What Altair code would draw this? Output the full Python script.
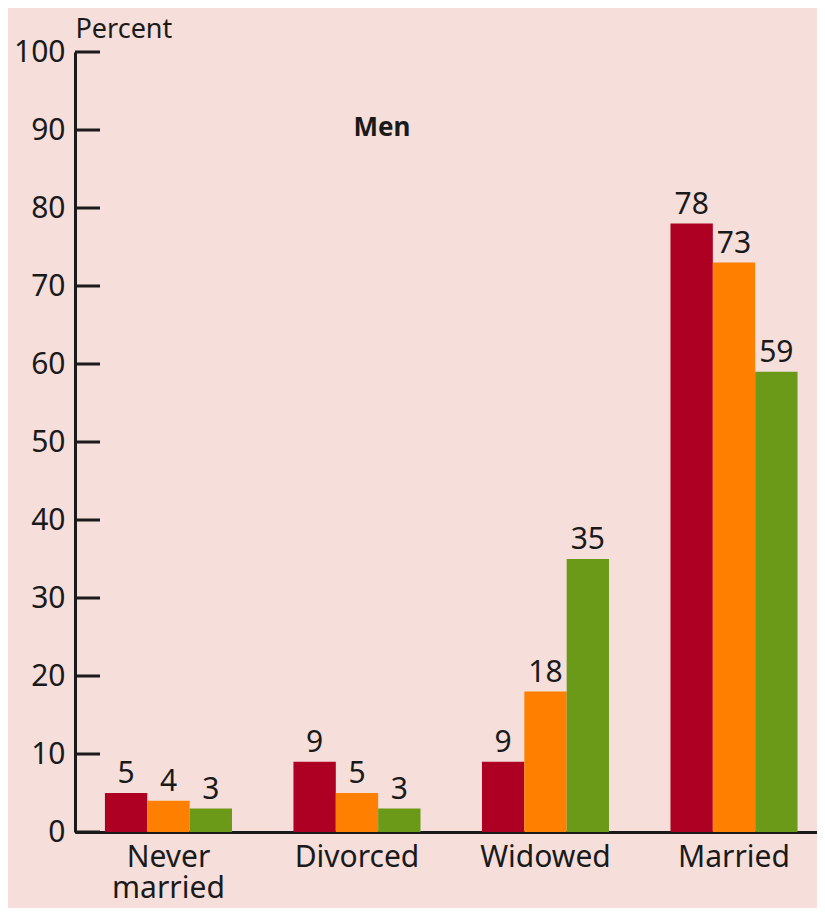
import altair as alt
import pandas as pd

categories = ["Never married", "Divorced", "Widowed", "Married"]
series = ["Group A", "Group B", "Group C"]
values_a = [5, 9, 9, 78]
values_b = [4, 5, 18, 73]
values_c = [3, 3, 35, 59]
colors = ["#AE0022", "#FF8000", "#6A9A18"]
y_ticks = [0, 10, 20, 30, 40, 50, 60, 70, 80, 90, 100]

rows = []
for i, c in enumerate(categories):
    for s, vals in zip(series, [values_a, values_b, values_c]):
        rows.append({"category": c, "series": s, "value": vals[i]})
df = pd.DataFrame(rows)

FONT = "Noto Sans"
INK = "#1a1a1a"
BG = "#F6DEDA"
FS = 30

x_enc = alt.X(
    "category:N", sort=categories,
    scale=alt.Scale(paddingInner=0.326, paddingOuter=0.131, align=0.606),
    axis=alt.Axis(title=None, labelAngle=0, ticks=False, labelPadding=10,
                  labelExpr="split(datum.label, ' ')", labelLineHeight=31,
                  labelFontSize=FS, labelFont=FONT, labelColor=INK,
                  domainColor=INK, domainWidth=3, labelBaseline="top"),
)
xoff = alt.XOffset("series:N", sort=series,
                   scale=alt.Scale(paddingInner=0, paddingOuter=0))
y_scale = alt.Scale(domain=[0, 100], nice=False)

bars = alt.Chart(df).mark_bar().encode(
    x=x_enc,
    xOffset=xoff,
    y=alt.Y("value:Q", scale=y_scale,
            axis=alt.Axis(title="Percent", titleAngle=0, titleX=0, titleY=-15,
                          titleAlign="left", titleBaseline="alphabetic",
                          titleFontSize=27, titleFont=FONT, titleFontWeight="normal",
                          titleColor=INK, values=y_ticks, ticks=False, grid=False,
                          labelPadding=10, labelFontSize=FS, labelFont=FONT,
                          labelColor=INK, domainColor=INK, domainWidth=3)),
    color=alt.Color("series:N", sort=series,
                    scale=alt.Scale(domain=series, range=colors), legend=None),
)

labels = alt.Chart(df).mark_text(
    dy=-10, baseline="alphabetic", fontSize=FS, font=FONT, color=INK
).encode(
    x=alt.X("category:N", sort=categories),
    xOffset=xoff,
    y=alt.Y("value:Q", scale=y_scale),
    text="value:Q",
)

tick_df = pd.DataFrame({"tick": y_ticks})
ticks = alt.Chart(tick_df).mark_rule(color=INK, strokeWidth=3).encode(
    y=alt.Y("tick:Q", scale=y_scale),
    x=alt.value(0), x2=alt.value(25),
)

title_df = pd.DataFrame({"label": ["Men"], "pos": [90.3]})
men = alt.Chart(title_df).mark_text(
    fontSize=26, fontWeight="bold", font=FONT, color=INK, baseline="middle"
).encode(
    x=alt.value(307),
    y=alt.Y("pos:Q", scale=y_scale),
    text="label:N",
)

chart = alt.layer(bars, labels, ticks, men).properties(
    width=742, height=780,
    autosize=alt.AutoSizeParams(type="none"),
    padding={"left": 67, "top": 44, "right": 0, "bottom": 76},
    background=BG,
).configure_view(stroke=None)

chart.save("out.html", embed_options={"renderer": "svg", "actions": False})
